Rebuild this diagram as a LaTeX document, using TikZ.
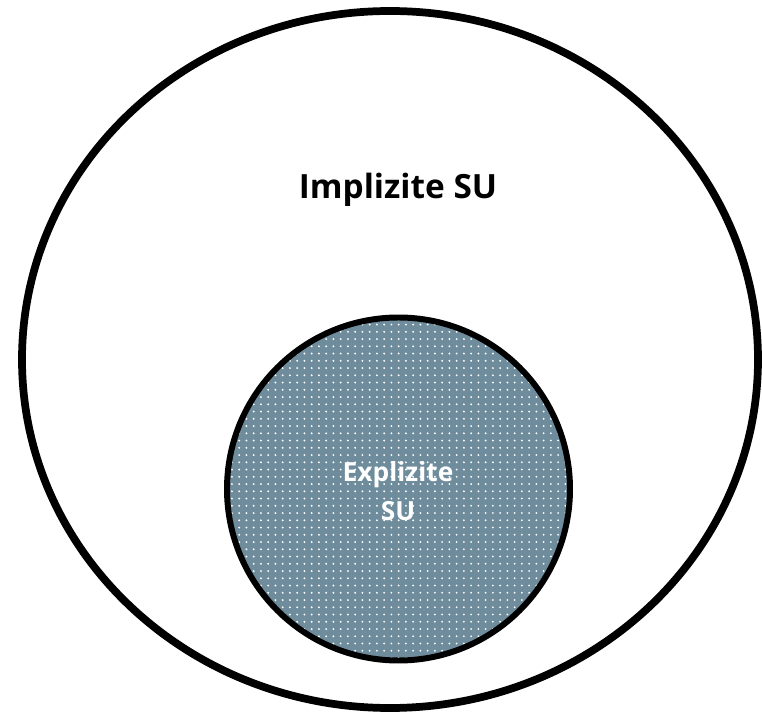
\documentclass[tikz,border=0pt]{standalone}
\usepackage{fontspec}
\setmainfont{Open Sans}
\usetikzlibrary{patterns.meta}
\definecolor{slate}{HTML}{6E8C9C}

\begin{document}
\begin{tikzpicture}
  [x=0.02cm,y=-0.02cm,
   set/.style={line width=4.4pt,draw=black},
   every node/.style={font=\bfseries}]
  \useasboundingbox (0,0) rectangle (762,716);

  \draw[set] (390,359.5) ellipse [x radius=368, y radius=348.5];
  \node[font=\bfseries\fontsize{19}{23}\selectfont] (impl) at (398,190) {Implizite SU};

  \fill[slate] (398.5,489) circle [radius=171.5];
  \fill[pattern={Dots[distance=0.145cm,radius=0.6pt]},pattern color=white]
    (398.5,489) circle [radius=171.5];
  \draw[line width=3.4pt] (398.5,489) circle [radius=171.5];
  \node[text=white,align=center,font=\bfseries\fontsize{15}{22.5}\selectfont] (expl) at (398,491)
    {Explizite\\SU};

\end{tikzpicture}
\end{document}
